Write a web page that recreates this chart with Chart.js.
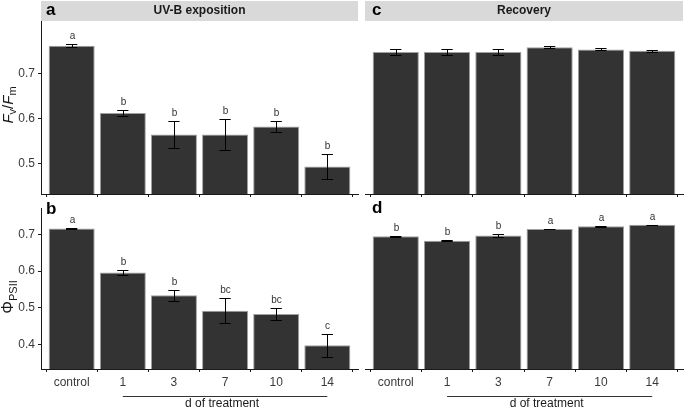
<!DOCTYPE html>
<html>
<head>
<meta charset="utf-8">
<script src="https://cdn.jsdelivr.net/npm/chart.js@4"></script>
<style>
  body { margin: 0; background: #fff; width: 685px; height: 410px; position: relative; overflow: hidden; }
  canvas { position: absolute; }
</style>
</head>
<body>
<canvas id="ca" width="362" height="200" style="left:0;top:0"></canvas>
<canvas id="cc" width="323" height="200" style="left:362px;top:0"></canvas>
<canvas id="cb" width="362" height="210" style="left:0;top:200px"></canvas>
<canvas id="cd" width="323" height="210" style="left:362px;top:200px"></canvas>
<script>
// ── Data ───────────────────────────────────────────────
const days = ['control', '1', '3', '7', '10', '14'];

const fvfmUV      = [0.761, 0.612, 0.564, 0.564, 0.582, 0.493];
const fvfmUVse    = [0.003, 0.006, 0.031, 0.035, 0.013, 0.027];
const fvfmUVlet   = ['a', 'b', 'b', 'b', 'b', 'b'];

const fvfmRec     = [0.747, 0.747, 0.747, 0.758, 0.753, 0.750];
const fvfmRecse   = [0.007, 0.007, 0.007, 0.002, 0.002, 0.002];

const phiUV       = [0.716, 0.596, 0.534, 0.492, 0.483, 0.398];
const phiUVse     = [0.001, 0.008, 0.015, 0.034, 0.016, 0.031];
const phiUVlet    = ['a', 'b', 'b', 'bc', 'bc', 'c'];

const phiRec      = [0.695, 0.683, 0.697, 0.715, 0.722, 0.726];
const phiRecse    = [0.002, 0.002, 0.004, 0.001, 0.002, 0.001];
const phiReclet   = ['b', 'b', 'b', 'a', 'a', 'a'];

const yTicksFv  = [0.5, 0.6, 0.7];
const yTicksPhi = [0.4, 0.5, 0.6, 0.7];

// ── Style ──────────────────────────────────────────────
const FONT = '"Liberation Sans", Arial, sans-serif';
const AXIS = '#1a1a1a';
const TEXT = '#3a3a3a';
Chart.defaults.font.family = FONT;

// ── Plugins ────────────────────────────────────────────
const errbars = {
    id: 'errbars',
    afterDatasetsDraw(chart, args, opts) {
        const { ctx, scales: { x, y } } = chart;
        const pts = chart.data.datasets[0].data;
        ctx.save();
        ctx.strokeStyle = '#000';
        ctx.lineWidth = 1;
        ctx.fillStyle = '#333';
        ctx.font = '10px ' + FONT;
        ctx.textAlign = 'center';
        ctx.textBaseline = 'alphabetic';
        pts.forEach((p, i) => {
            const se = opts.se[i];
            const xc = Math.round(x.getPixelForValue(p.x)) + 0.5;
            const x0 = x.getPixelForValue(p.x - 0.11), x1 = x.getPixelForValue(p.x + 0.11);
            const yt = Math.round(y.getPixelForValue(p.y + se)) + 0.5;
            const yb = Math.round(y.getPixelForValue(p.y - se)) + 0.5;
            ctx.beginPath();
            ctx.moveTo(x0, yt); ctx.lineTo(x1, yt);
            ctx.moveTo(xc, yt); ctx.lineTo(xc, yb);
            ctx.moveTo(x0, yb); ctx.lineTo(x1, yb);
            ctx.stroke();
            if (opts.letters) ctx.fillText(opts.letters[i], xc, yt - 6);
        });
        ctx.restore();
    }
};

function richVertical(ctx, parts, cx, cy) {
    ctx.save();
    ctx.translate(cx, cy);
    ctx.rotate(-Math.PI / 2);
    let w = 0;
    parts.forEach(p => { ctx.font = p[1]; w += ctx.measureText(p[0]).width; });
    let x = -w / 2;
    ctx.textAlign = 'left';
    ctx.textBaseline = 'alphabetic';
    parts.forEach(p => { ctx.font = p[1]; ctx.fillText(p[0], x, p[2]); x += ctx.measureText(p[0]).width; });
    ctx.restore();
}

const deco = {
    id: 'deco',
    beforeDraw(chart, args, opts) {
        const { ctx, chartArea: a } = chart;
        if (opts.strip) {
            ctx.save();
            ctx.fillStyle = '#d9d9d9';
            ctx.fillRect(a.left, a.top - 20, a.right - a.left, 20);
            ctx.fillStyle = '#1a1a1a';
            ctx.font = 'bold 12px ' + FONT;
            ctx.textAlign = 'center';
            ctx.textBaseline = 'middle';
            ctx.fillText(opts.strip, (a.left + a.right) / 2, a.top - 10);
            ctx.restore();
        }
    },
    afterDraw(chart, args, opts) {
        const { ctx, chartArea: a, scales: { x } } = chart;
        ctx.save();
        ctx.fillStyle = '#000';
        ctx.font = 'bold 17px ' + FONT;
        ctx.textAlign = 'left';
        ctx.textBaseline = 'alphabetic';
        ctx.fillText(opts.tag, a.left + opts.dx, a.top + opts.dy);
        if (opts.title) {
            ctx.fillStyle = '#1a1a1a';
            richVertical(ctx, opts.title, 8, opts.titleY);
        }
        if (opts.xlab) {
            const x0 = x.getPixelForValue(1), x1 = x.getPixelForValue(5);
            const ly = Math.round(a.bottom + 27) + 0.5;
            ctx.strokeStyle = '#333';
            ctx.lineWidth = 1;
            ctx.beginPath(); ctx.moveTo(x0, ly); ctx.lineTo(x1, ly); ctx.stroke();
            ctx.fillStyle = '#1a1a1a';
            ctx.font = '12px ' + FONT;
            ctx.textAlign = 'center';
            ctx.fillText(opts.xlab, (x0 + x1) / 2 - 3, a.bottom + 38);
        }
        ctx.restore();
    }
};

// ── Chart factory ──────────────────────────────────────
function makePanel(id, values, se, letters, yr, yTicks, cfg) {
    const pts = values.map((v, i) => ({ x: i, y: v }));
    return new Chart(document.getElementById(id), {
        type: 'bar',
        data: {
            datasets: [{
                data: pts,
                backgroundColor: '#333333',
                borderColor: '#a0a0a0',
                borderWidth: 1,
                barPercentage: 0.9,
                categoryPercentage: 1
            }]
        },
        options: {
            responsive: false,
            animation: false,
            layout: { padding: cfg.padding },
            plugins: {
                legend: { display: false },
                tooltip: { enabled: false },
                errbars: { se, letters },
                deco: cfg.deco
            },
            scales: {
                x: {
                    type: 'linear',
                    offset: false,
                    min: -0.6, max: 5.6,
                    afterBuildTicks: s => { s.ticks = days.map((d, i) => ({ value: i })); },
                    afterFit: s => { s.height = cfg.xh; s.paddingLeft = 0; s.paddingRight = 0; },
                    border: { display: true, color: AXIS, width: 1 },
                    grid: { drawOnChartArea: false, drawTicks: true, tickLength: 3, color: AXIS },
                    ticks: {
                        display: cfg.xlabels,
                        padding: 3,
                        color: TEXT,
                        font: { size: 12 },
                        maxRotation: 0,
                        autoSkip: false,
                        callback: v => days[v]
                    }
                },
                y: {
                    display: cfg.yaxis,
                    min: yr[0], max: yr[1],
                    beginAtZero: false,
                    afterBuildTicks: s => { s.ticks = yTicks.map(v => ({ value: v })); },
                    afterFit: s => { s.width = cfg.yaxis ? 41 : 0; s.paddingTop = 0; s.paddingBottom = 0; },
                    border: { display: true, color: AXIS, width: 1 },
                    grid: { drawOnChartArea: false, drawTicks: true, tickLength: 3, color: AXIS },
                    ticks: { padding: 3, color: TEXT, font: { size: 12 }, callback: v => v.toFixed(1) }
                }
            }
        },
        plugins: [errbars, deco]
    });
}

const rangeFv  = [0.432, 0.816];
const rangePhi = [0.333, 0.772];

makePanel('ca', fvfmUV, fvfmUVse, fvfmUVlet, rangeFv, yTicksFv, {
    padding: { top: 21, right: 4, left: 0, bottom: 0 },
    xh: 6, xlabels: false, yaxis: true,
    deco: {
        tag: 'a', dx: 5, dy: -6, strip: 'UV-B exposition', titleY: 105,
        title: [['F', 'italic 15px ' + FONT, 5], ['v', '11px ' + FONT, 8], ['/', '15px ' + FONT, 5],
                ['F', 'italic 15px ' + FONT, 5], ['m', '11px ' + FONT, 8]]
    }
});

makePanel('cc', fvfmRec, fvfmRecse, null, rangeFv, yTicksFv, {
    padding: { top: 21, right: 2, left: 3, bottom: 0 },
    xh: 6, xlabels: false, yaxis: false,
    deco: { tag: 'c', dx: 7, dy: -6, strip: 'Recovery' }
});

makePanel('cb', phiUV, phiUVse, phiUVlet, rangePhi, yTicksPhi, {
    padding: { top: 8, right: 4, left: 0, bottom: 0 },
    xh: 41, xlabels: true, yaxis: true,
    deco: {
        tag: 'b', dx: 5, dy: 6, xlab: 'd of treatment', titleY: 97,
        title: [['\u03A6', '16px ' + FONT, 5], ['PSII', '11px ' + FONT, 9]]
    }
});

makePanel('cd', phiRec, phiRecse, phiReclet, rangePhi, yTicksPhi, {
    padding: { top: 8, right: 2, left: 3, bottom: 0 },
    xh: 41, xlabels: true, yaxis: false,
    deco: { tag: 'd', dx: 7, dy: 5, xlab: 'd of treatment' }
});
</script>
</body>
</html>
